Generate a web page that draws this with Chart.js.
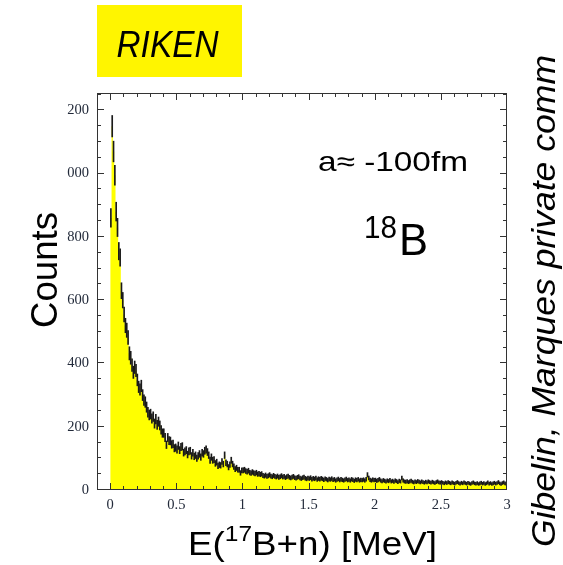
<!DOCTYPE html>
<html>
<head>
<meta charset="utf-8">
<script src="https://cdn.jsdelivr.net/npm/chart.js@4/dist/chart.umd.min.js"></script>
<style>
  html, body { margin: 0; padding: 0; background: #fff; overflow: hidden; }
  canvas { display: block; }
</style>
</head>
<body>
<canvas id="c" width="563" height="565"></canvas>
<script>
// 17B + n relative-energy spectrum, 10 keV bins starting at 0 MeV
const binWidth = 0.01;
const counts = [
  860,1150,1070,995,880,830,755,735,630,600,
  555,520,505,482,432,418,395,372,388,378,
  348,326,318,329,300,284,278,262,246,237,
  240,226,232,210,224,206,216,204,190,180,
  180,166,143,166,156,155,144,146,132,134,
  128,140,126,136,138,118,122,126,112,122,
  124,108,118,106,110,100,108,114,104,118,
  114,124,128,120,110,94,104,94,96,84,
  88,76,80,78,90,82,110,86,82,72,
  80,94,82,74,66,70,64,64,54,62,
  62,64,60,58,61,55,53,57,54,52,
  55,50,52,49,51,46,44,47,43,45,
  48,44,42,46,43,41,44,40,42,45,
  41,43,39,42,44,40,38,41,43,39,
  37,40,42,38,36,39,41,37,35,38,
  36,39,34,37,35,38,33,36,34,37,
  35,32,36,34,31,35,33,36,32,34,
  30,33,35,31,34,32,30,33,35,31,
  33,30,34,32,29,33,31,34,30,32,
  31,33,30,34,48,38,32,30,33,31,
  32,29,31,34,30,28,31,29,27,30,
  28,31,27,29,26,30,28,25,29,27,
  38,30,27,26,28,25,27,29,26,24,
  27,25,28,26,24,27,25,23,26,24,
  27,25,23,26,24,22,25,27,24,23,
  25,23,21,24,22,25,23,21,24,22,
  20,23,25,22,20,23,21,24,22,20,
  23,21,19,22,24,21,20,22,19,21,
  23,20,22,19,21,24,20,22,19,21,
  23,20,22,25,21,19,22,24,21,20
];

const xTickValues = [0, 0.5, 1, 1.5, 2, 2.5, 3];
const xTickLabels = ['0', '0.5', '1', '1.5', '2', '2.5', '3'];
const yTickValues = [0, 200, 400, 600, 800, 1000, 1200];
const yTickLabels = ['0', '200', '400', '600', '800', '000', '200'];

// step outline: one point per lower bin edge, closed at the last upper edge
const stepPoints = counts.map((c, i) => ({ x: i * binWidth, y: c }));
stepPoints.push({ x: counts.length * binWidth, y: counts[counts.length - 1] });

// Poisson error bars (±√N) at bin centres
const errorBars = counts.map((c, i) => ({ x: (i + 0.5) * binWidth, y: [c - Math.sqrt(c), c + Math.sqrt(c)] }));

const tickFont = { family: 'Liberation Serif', size: 14.5 };
const tickColor = '#222a3a';

// frame with inward ticks on all four sides
const framePlugin = {
  id: 'frame',
  afterDatasetsDraw(chart) {
    const { ctx, chartArea: a, scales: { x, y } } = chart;
    ctx.save();
    ctx.strokeStyle = '#333';
    ctx.lineWidth = 1;
    ctx.strokeRect(a.left + 0.5, a.top + 0.5, a.right - a.left - 1, a.bottom - a.top - 1);
    ctx.beginPath();
    for (let i = -1; i <= 30; i++) {
      const px = Math.round(x.getPixelForValue(i / 10)) + 0.5;
      if (px < a.left || px > a.right) continue;
      const len = i % 5 === 0 ? 7 : 4;
      ctx.moveTo(px, a.bottom); ctx.lineTo(px, a.bottom - len);
      ctx.moveTo(px, a.top); ctx.lineTo(px, a.top + len);
    }
    for (let i = 0; i <= 25; i++) {
      const py = Math.round(y.getPixelForValue(i * 50)) - 0.5;
      if (py < a.top || py > a.bottom) continue;
      const len = i % 4 === 0 ? 7 : 4;
      ctx.moveTo(a.left, py); ctx.lineTo(a.left + len, py);
      ctx.moveTo(a.right, py); ctx.lineTo(a.right - len, py);
    }
    ctx.stroke();
    ctx.restore();
  }
};

// draw text squeezed or stretched horizontally to a given width
function fitText(ctx, str, x, y, font, width, align) {
  ctx.save();
  ctx.font = font;
  const w = ctx.measureText(str).width;
  ctx.translate(x, y);
  ctx.scale(width / w, 1);
  ctx.textAlign = align;
  ctx.textBaseline = 'alphabetic';
  ctx.fillText(str, 0, 0);
  ctx.restore();
}

const labelPlugin = {
  id: 'labels',
  afterDraw(chart) {
    const ctx = chart.ctx;
    ctx.save();
    // RIKEN tag
    ctx.fillStyle = '#FFF500';
    ctx.fillRect(97, 5, 145, 72);
    ctx.fillStyle = '#000';
    fitText(ctx, 'RIKEN', 167.5, 57, 'italic 37px "Liberation Sans"', 102, 'center');

    // annotations inside the frame
    fitText(ctx, 'a\u2248 -100fm', 318, 171, '28px "Liberation Sans"', 150, 'left');
    fitText(ctx, '18', 364, 238, '31px "Liberation Sans"', 33, 'left');
    fitText(ctx, 'B', 399, 255, '44px "Liberation Sans"', 29, 'left');

    // y-axis title
    ctx.save();
    ctx.translate(57, 270);
    ctx.rotate(-Math.PI / 2);
    fitText(ctx, 'Counts', 0, 0, '37px "Liberation Sans"', 116, 'center');
    ctx.restore();

    // x-axis title with superscript mass number
    const mainFont = '33px "Liberation Sans"', supFont = '22px "Liberation Sans"';
    const p1 = 'E(', p2 = '17', p3 = 'B+n) [MeV]';
    ctx.font = mainFont; const w1 = ctx.measureText(p1).width, w3 = ctx.measureText(p3).width;
    ctx.font = supFont; const w2 = ctx.measureText(p2).width;
    const sx = 249 / (w1 + w2 + w3);
    ctx.save();
    ctx.translate(188, 555);
    ctx.scale(sx, 1);
    ctx.textAlign = 'left'; ctx.textBaseline = 'alphabetic';
    ctx.font = mainFont; ctx.fillText(p1, 0, 0);
    ctx.font = supFont; ctx.fillText(p2, w1, -14);
    ctx.font = mainFont; ctx.fillText(p3, w1 + w2, 0);
    ctx.restore();

    // credit along the right edge
    ctx.save();
    ctx.translate(555, 301);
    ctx.rotate(-Math.PI / 2);
    fitText(ctx, 'Gibelin, Marques private comm', 0, 0, 'italic 34px "Liberation Sans"', 492, 'center');
    ctx.restore();

    ctx.restore();
  }
};

new Chart(document.getElementById('c'), {
  type: 'line',
  data: {
    datasets: [
      {
        type: 'bar',
        data: errorBars,
        backgroundColor: '#1a1a1a',
        borderWidth: 0,
        barThickness: 1,
        grouped: false,
        order: 1
      },
      {
        type: 'line',
        data: stepPoints,
        stepped: 'before',
        fill: 'origin',
        backgroundColor: '#FFFF00',
        borderWidth: 0,
        borderColor: 'rgba(0,0,0,0)',
        pointRadius: 0,
        order: 2
      }
    ]
  },
  options: {
    responsive: false,
    animation: false,
    devicePixelRatio: 1,
    layout: { padding: { left: 0, right: 56, top: 93, bottom: 0 } },
    plugins: { legend: { display: false }, tooltip: { enabled: false } },
    scales: {
      x: {
        type: 'linear',
        min: -0.1,
        max: 3,
        offset: false,
        grid: { display: false, drawTicks: false },
        border: { display: false },
        afterBuildTicks: s => { s.ticks = xTickValues.map(v => ({ value: v })); },
        afterFit: s => { s.height = 75; },
        ticks: {
          font: tickFont,
          color: tickColor,
          padding: 6,
          maxRotation: 0,
          autoSkip: false,
          callback: (v, i) => xTickLabels[i]
        }
      },
      y: {
        type: 'linear',
        min: 0,
        max: 1255,
        grid: { display: false, drawTicks: false },
        border: { display: false },
        afterBuildTicks: s => { s.ticks = yTickValues.map(v => ({ value: v })); },
        afterFit: s => { s.width = 97; },
        ticks: {
          font: tickFont,
          color: tickColor,
          padding: 8,
          autoSkip: false,
          callback: (v, i) => yTickLabels[i]
        }
      }
    }
  },
  plugins: [framePlugin, labelPlugin]
});
</script>
</body>
</html>
